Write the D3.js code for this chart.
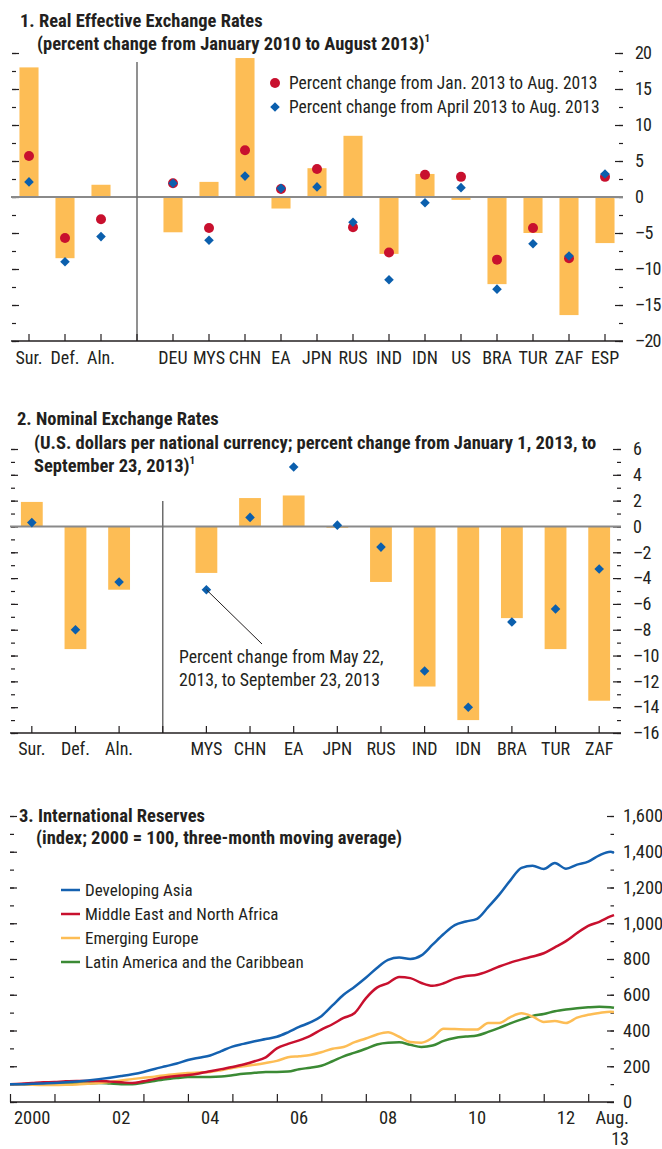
<!DOCTYPE html>
<html>
<head>
<meta charset="utf-8">
<script src="https://cdn.jsdelivr.net/npm/d3@7"></script>
<style>
body { margin: 0; background: #fff; }
svg { display: block; font-family: "Liberation Sans Narrow", "Arial Narrow", "Roboto Condensed", "DejaVu Sans Condensed", sans-serif; }
text { fill: #231f20; }
.axis path, .axis line { stroke: #231f20; }
</style>
</head>
<body>
<script>
// ---- panel 1: real effective exchange rates ----
var reerCats = ["Sur.", "Def.", "Aln.", "", "DEU", "MYS", "CHN", "EA", "JPN", "RUS", "IND", "IDN", "US", "BRA", "TUR", "ZAF", "ESP"];
var reerBars = [18.0, -8.5, 1.7, null, -4.9, 2.1, 19.3, -1.6, 4.0, 8.5, -7.9, 3.2, -0.4, -12.1, -5.0, -16.4, -6.4];
var reerJan = [5.7, -5.7, -3.1, null, 1.9, -4.3, 6.5, 1.1, 3.9, -4.2, -7.7, 3.1, 2.8, -8.7, -4.3, -8.5, 2.8];
var reerApr = [2.1, -9.0, -5.5, null, 1.9, -6.0, 2.9, 1.2, 1.4, -3.5, -11.5, -0.8, 1.3, -12.8, -6.5, -8.2, 3.2];
var reerLegend = ["Percent change from Jan. 2013 to Aug. 2013", "Percent change from April 2013 to Aug. 2013"];

// ---- panel 2: nominal exchange rates ----
var nerCats = ["Sur.", "Def.", "Aln.", "", "MYS", "CHN", "EA", "JPN", "RUS", "IND", "IDN", "BRA", "TUR", "ZAF"];
var nerBars = [1.9, -9.5, -4.9, null, -3.6, 2.2, 2.4, -0.1, -4.3, -12.4, -15.0, -7.1, -9.5, -13.5];
var nerMay = [0.3, -8.0, -4.3, null, -4.9, 0.7, 4.6, 0.1, -1.6, -11.2, -14.0, -7.4, -6.4, -3.3];

// ---- panel 3: international reserves, quarterly readings (last = Aug. 2013) ----
var resDates = d3.range(55).map(function(i) { return 2000 + i * 0.25; }).concat([2013.58]);
var devAsia = [100, 100, 102, 104, 106, 110, 115, 121, 128, 136, 145, 155, 168, 185, 200, 215, 235, 248, 260, 285,
  310, 325, 340, 352, 365, 390, 420, 445, 480, 540, 600, 645, 695, 750, 795, 808, 800, 820, 880, 940,
  990, 1010, 1025, 1090, 1160, 1240, 1310, 1322, 1303, 1337, 1305, 1328, 1345, 1380, 1400, 1393];
var mena = [100, 102, 106, 110, 112, 116, 118, 118, 118, 114, 110, 106, 116, 128, 138, 146, 151, 160, 172, 184,
  196, 210, 228, 250, 300, 325, 345, 370, 405, 435, 470, 498, 580, 640, 665, 700, 693, 666, 650, 664,
  690, 705, 712, 732, 758, 780, 798, 814, 832, 865, 900, 945, 985, 1008, 1038, 1046];
var emEurope = [100, 98, 96, 95, 95, 96, 98, 102, 106, 112, 120, 128, 136, 142, 150, 157, 162, 165, 168, 178,
  190, 200, 208, 218, 230, 250, 256, 263, 278, 298, 308, 335, 355, 378, 390, 365, 335, 332, 360, 410,
  408, 406, 405, 442, 442, 475, 496, 478, 448, 453, 442, 472, 488, 498, 505, 504];
var latAm = [100, 100, 100, 100, 100, 102, 103, 104, 106, 103, 100, 100, 108, 118, 127, 134, 140, 140, 140, 142,
  150, 158, 163, 168, 168, 170, 183, 192, 203, 228, 255, 276, 298, 322, 332, 334, 320, 308, 316, 342,
  358, 366, 372, 392, 415, 440, 462, 482, 492, 508, 518, 525, 530, 533, 530, 527];
var resNames = ["Developing Asia", "Middle East and North Africa", "Emerging Europe", "Latin America and the Caribbean"];
var yearLabels = ["2000", "02", "04", "06", "08", "10", "12"];

var barColor = "#fdbd55", redColor = "#c8102e", blueColor = "#0b5fad";
var lineColors = ["#1461b0", "#c8102e", "#fdbd55", "#3b8a34"];

var svg = d3.select("body").append("svg").attr("width", 662).attr("height", 1149);

function dash(v) {
  return String(v).replace("-", "\u2013");
}

function title(lines, x0, y0, x1, dy) {
  var t = svg.append("text").attr("font-weight", "bold").attr("font-size", 18.5);
  lines.forEach(function(l, i) {
    t.append("tspan").attr("x", i == 0 ? x0 : x1).attr("y", y0 + i * dy).text(l.text);
    if (l.sup) {
      t.append("tspan").attr("dy", -8).attr("font-size", 11).text("1");
    }
  });
}

// strip d3's default axis font so the page font is used
function plainText(sel, size) {
  sel.attr("font-family", null).attr("font-size", null);
  sel.selectAll("text").attr("font-size", size).attr("fill", "#231f20");
}

function vTicks(g, y, x, values, len, side) {
  var ax = (side == "left" ? d3.axisRight(y) : d3.axisLeft(y)).tickValues(values).tickSize(len).tickFormat("");
  var a = g.append("g").attr("class", "axis").attr("transform", "translate(" + x + ",0)").call(ax);
  a.select(".domain").remove();
  a.selectAll("line").attr("stroke-width", 1.2);
}

function barPanel(cfg) {
  var g = svg.append("g");
  var n = cfg.cats.length;
  var x = d3.scaleBand().domain(d3.range(n)).range([cfg.left, cfg.right]).paddingInner(cfg.pad).paddingOuter(cfg.pad / 2);
  var y = d3.scaleLinear().domain(cfg.domain).range([cfg.bottom, cfg.top]);
  var cx = function(i) { return x(i) + x.bandwidth() / 2; };

  var minor = d3.range(cfg.domain[0], cfg.domain[1] + 0.001, cfg.minor);
  var major = d3.range(cfg.domain[0], cfg.domain[1] + 0.001, cfg.major);
  vTicks(g, y, cfg.left + 1, minor, 4, "left");
  vTicks(g, y, cfg.left + 1, major, 7, "left");
  vTicks(g, y, cfg.right, minor, 4, "right");
  vTicks(g, y, cfg.right, major, 8, "right");

  var lab = g.append("g").attr("transform", "translate(" + cfg.right + ",0)")
    .call(d3.axisRight(y).tickValues(major).tickSize(0).tickPadding(cfg.labPad).tickFormat(dash));
  lab.select(".domain").remove();
  plainText(lab, 18);
  lab.selectAll("text").attr("letter-spacing", -0.9);

  // bars
  g.selectAll("rect.bar").data(cfg.bars.map(function(v, i) { return {v: v, i: i}; }).filter(function(d) { return d.v != null; }))
    .enter().append("rect")
    .attr("x", function(d) { return x(d.i); })
    .attr("width", x.bandwidth())
    .attr("y", function(d) { return y(Math.max(0, d.v)); })
    .attr("height", function(d) { return Math.abs(y(d.v) - y(0)); })
    .attr("fill", barColor);

  // zero line
  g.append("line").attr("x1", cfg.left).attr("x2", cfg.right).attr("y1", y(0)).attr("y2", y(0))
    .attr("stroke", "#8a8a8a").attr("stroke-width", 2);

  // separator between groups and economies
  g.append("line").attr("x1", cx(3)).attr("x2", cx(3)).attr("y1", cfg.sepTop).attr("y2", cfg.bottom)
    .attr("stroke", "#6d6d6d").attr("stroke-width", 1.5);

  // bottom axis: ticks pointing up
  var bx = g.append("g").attr("class", "axis").attr("transform", "translate(0," + cfg.bottom + ")")
    .call(d3.axisTop(x).tickSize(7).tickFormat(""));
  bx.select(".domain").attr("d", "M" + cfg.left + ",0H" + cfg.right).attr("stroke-width", 1.6);
  bx.selectAll("line").attr("stroke-width", 1.2);
  var bl = g.append("g").attr("transform", "translate(0," + cfg.bottom + ")")
    .call(d3.axisBottom(x).tickSize(0).tickPadding(cfg.catPad).tickFormat(function(i) { return cfg.cats[i]; }));
  bl.select(".domain").remove();
  plainText(bl, 18);

  // markers
  if (cfg.dots) {
    g.selectAll("circle.dot").data(cfg.dots.map(function(v, i) { return {v: v, i: i}; }).filter(function(d) { return d.v != null; }))
      .enter().append("circle")
      .attr("cx", function(d) { return cx(d.i); })
      .attr("cy", function(d) { return y(d.v); })
      .attr("r", 5).attr("fill", redColor);
  }
  var diamond = d3.symbol().type(d3.symbolSquare).size(46);
  g.selectAll("path.dia").data(cfg.diamonds.map(function(v, i) { return {v: v, i: i}; }).filter(function(d) { return d.v != null; }))
    .enter().append("path")
    .attr("d", diamond)
    .attr("transform", function(d) { return "translate(" + cx(d.i) + "," + y(d.v) + ") rotate(45)"; })
    .attr("fill", blueColor);

  return {x: cx, y: y, g: g};
}

// ---------- panel 1 ----------
title([{text: "1. Real Effective Exchange Rates"}, {text: "(percent change from January 2010 to August 2013)", sup: true}], 20, 27, 37, 23);
var p1 = barPanel({cats: reerCats, bars: reerBars, dots: reerJan, diamonds: reerApr,
  left: 11, right: 623, top: 53, bottom: 341, domain: [-20, 20], minor: 2.5, major: 5,
  pad: 0.47, labPad: 12, catPad: 10, sepTop: 62});
var leg1 = svg.append("g").attr("font-size", 17.5);
leg1.append("circle").attr("cx", 275).attr("cy", 83).attr("r", 5).attr("fill", redColor);
leg1.append("path").attr("d", d3.symbol().type(d3.symbolSquare).size(46))
  .attr("transform", "translate(275,107) rotate(45)").attr("fill", blueColor);
reerLegend.forEach(function(t, i) {
  leg1.append("text").attr("x", 289).attr("y", 89 + i * 24).text(t);
});

// ---------- panel 2 ----------
title([{text: "2. Nominal Exchange Rates"},
  {text: "(U.S. dollars per national currency; percent change from January 1, 2013, to"},
  {text: "September 23, 2013)", sup: true}], 17, 425, 34, 23.5);
var p2 = barPanel({cats: nerCats, bars: nerBars, diamonds: nerMay,
  left: 10, right: 621, top: 449, bottom: 733, domain: [-16, 6], minor: 1, major: 2,
  pad: 0.5, labPad: 12, catPad: 9, sepTop: 501});
var ann = svg.append("g").attr("font-size", 17.8);
ann.append("line").attr("x1", p2.x(4)).attr("y1", p2.y(nerMay[4])).attr("x2", 262).attr("y2", 644)
  .attr("stroke", "#231f20").attr("stroke-width", 1);
ann.append("text").attr("x", 179).attr("y", 663).text("Percent change from May 22,");
ann.append("text").attr("x", 179).attr("y", 686).text("2013, to September 23, 2013");

// ---------- panel 3 ----------
title([{text: "3. International Reserves"}, {text: "(index; 2000 = 100, three-month moving average)"}], 19, 822, 36, 22);
var x3 = d3.scaleLinear().domain([2000, 2013.58]).range([10, 614]);
var y3 = d3.scaleLinear().domain([0, 1600]).range([1102, 816]);
var g3 = svg.append("g");
vTicks(g3, y3, 10, d3.range(0, 1601, 100), 4, "left");
vTicks(g3, y3, 10, d3.range(0, 1601, 200), 7, "left");
vTicks(g3, y3, 614, d3.range(0, 1601, 100), 3.5, "right");
vTicks(g3, y3, 614, d3.range(0, 1601, 200), 7, "right");
var l3 = g3.append("g").attr("transform", "translate(614,0)")
  .call(d3.axisRight(y3).tickValues(d3.range(0, 1601, 200)).tickSize(0).tickPadding(9).tickFormat(d3.format(",")));
l3.select(".domain").remove();
plainText(l3, 18.5);

var series = [devAsia, mena, emEurope, latAm];
var line = d3.line().x(function(d) { return x3(d[0]); }).y(function(d) { return y3(d[1]); }).curve(d3.curveMonotoneX);
[3, 2, 1, 0].forEach(function(k) {
  g3.append("path").datum(resDates.map(function(t, i) { return [t, series[k][i]]; }))
    .attr("d", line).attr("fill", "none").attr("stroke", lineColors[k]).attr("stroke-width", 2.5)
    .attr("stroke-linejoin", "round");
});

var xa = g3.append("g").attr("class", "axis").attr("transform", "translate(0,1102)")
  .call(d3.axisTop(x3).tickValues(d3.range(2000, 2014)).tickSize(8).tickFormat(""));
xa.select(".domain").attr("d", "M10,0H614").attr("stroke-width", 1.6);
xa.selectAll("line").attr("stroke-width", 1.2);
yearLabels.forEach(function(t, i) {
  g3.append("text").attr("x", x3(2000.5 + i * 2)).attr("y", 1124).attr("text-anchor", "middle")
    .attr("font-size", 18.5).text(t);
});
g3.append("text").attr("x", 629).attr("y", 1124).attr("text-anchor", "end").attr("font-size", 18.5).text("Aug.");
g3.append("text").attr("x", 629).attr("y", 1145).attr("text-anchor", "end").attr("font-size", 18).text("13");

var leg3 = g3.append("g");
resNames.forEach(function(name, i) {
  leg3.append("line").attr("x1", 61).attr("x2", 80).attr("y1", 890 + i * 24).attr("y2", 890 + i * 24)
    .attr("stroke", lineColors[i]).attr("stroke-width", 2.5);
  leg3.append("text").attr("x", 85).attr("y", 896 + i * 24).attr("font-size", 17).text(name);
});
</script>
</body>
</html>
